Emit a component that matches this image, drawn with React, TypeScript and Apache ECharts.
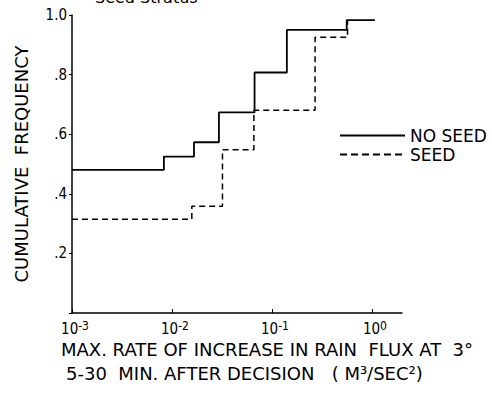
import React, { useEffect, useRef } from "react";
import * as echarts from "echarts";

// Step CDF data: [x (m^3/s^2), cumulative frequency after step]
const noSeedX = [0.001, 0.0083, 0.0166, 0.0295, 0.067, 0.141, 0.56, 1.07];
const noSeedY = [0.48, 0.525, 0.573, 0.673, 0.807, 0.95, 0.983, 0.983];
const seedX = [0.001, 0.0158, 0.032, 0.066, 0.27, 0.57];
const seedY = [0.315, 0.358, 0.548, 0.68, 0.925, 0.983];

const xTickValues = [0.001, 0.01, 0.1, 1];
const xTickExp = ["-3", "-2", "-1", "0"];
const yTickValues = [0.2, 0.4, 0.6, 0.8, 1.0];
const yTickLabels = [".2", ".4", ".6", ".8", "1.0"];

const seriesNames = ["NO SEED", "SEED"];
const yTitle = "CUMULATIVE  FREQUENCY";
const xTitle1 = "MAX. RATE OF INCREASE IN RAIN  FLUX AT  3°";
const xTitle2 = "5-30  MIN. AFTER DECISION   ( M³/SEC²)";
const topFragment = "Seed Stratus";

const FONT = "DejaVu Sans";
const FONT_C = "DejaVu Sans Condensed";

const SOLID_ICON = "path://M0,0h65v2h-65z";
const DASH_ICON =
  "path://M0,0h7v2h-7zM11,0h7v2h-7zM22,0h7v2h-7zM33,0h7v2h-7zM44,0h7v2h-7zM55,0h7v2h-7zM65,0h0.01v2h-0.01z";

export default function App() {
  const ref = useRef<HTMLDivElement>(null);

  useEffect(() => {
    document.body.style.margin = "0";
    if (!ref.current) return;
    const chart = echarts.init(ref.current, undefined, { renderer: "svg" });
    const zip = (xs: number[], ys: number[]) => xs.map((x, i) => [x, ys[i]]);

    chart.setOption({
      animation: false,
      backgroundColor: "#ffffff",
      grid: { left: 72, right: 90, top: 15, bottom: 84, containLabel: false },
      xAxis: {
        type: "log",
        logBase: 10,
        min: 0.001,
        max: 2,
        axisLine: { show: true, lineStyle: { color: "#000", width: 1.5 } },
        axisTick: {
          show: true,
          inside: true,
          length: 4,
          customValues: xTickValues,
          lineStyle: { color: "#000", width: 1 },
        },
        axisLabel: {
          customValues: xTickValues,
          margin: 7,
          formatter: (v: number) => {
            const i = xTickValues.findIndex((t) => Math.abs(Math.log10(t) - Math.log10(v)) < 1e-6);
            if (i < 0) return "";
            return "{b|10}{s|" + xTickExp[i] + "}";
          },
          rich: {
            b: { fontFamily: FONT_C, fontSize: 15, color: "#000", padding: [0, 0, 0, 6] },
            s: { fontFamily: FONT_C, fontSize: 12, color: "#000", padding: [0, 0, 5, 0] },
          },
        },
        splitLine: { show: false },
        minorTick: { show: false },
      },
      yAxis: {
        type: "value",
        min: 0,
        max: 1,
        interval: 0.2,
        name: yTitle,
        nameLocation: "middle",
        nameRotate: 90,
        nameGap: 42,
        nameTextStyle: { fontFamily: FONT, fontSize: 18, color: "#000" },
        axisLine: { show: true, lineStyle: { color: "#000", width: 1.5 } },
        axisTick: { show: true, inside: false, length: 3, lineStyle: { color: "#000", width: 1 } },
        axisLabel: {
          margin: 5,
          fontFamily: FONT_C,
          fontSize: 15,
          color: "#000",
          formatter: (v: number) => {
            const i = yTickValues.findIndex((t) => Math.abs(t - v) < 1e-6);
            return i < 0 ? "" : yTickLabels[i];
          },
        },
        splitLine: { show: false },
      },
      legend: {
        orient: "vertical",
        left: 335,
        top: 122,
        itemWidth: 65,
        itemHeight: 14,
        itemGap: 2,
        symbolKeepAspect: true,
        textStyle: { fontFamily: FONT, fontSize: 17, color: "#000" },
        data: [
          { name: seriesNames[0], icon: SOLID_ICON },
          { name: seriesNames[1], icon: DASH_ICON },
        ],
      },
      series: [
        {
          name: seriesNames[0],
          type: "line",
          step: "end",
          symbol: "none",
          data: zip(noSeedX, noSeedY),
          lineStyle: { color: "#000", width: 1.8, type: "solid" },
          itemStyle: { color: "#000" },
        },
        {
          name: seriesNames[1],
          type: "line",
          step: "end",
          symbol: "none",
          data: zip(seedX, seedY),
          lineStyle: { color: "#000", width: 1.5, type: [6, 4] },
          itemStyle: { color: "#000" },
        },
      ],
      graphic: [
        {
          type: "text",
          left: 95,
          top: -11,
          style: { text: topFragment, fontFamily: FONT, fontSize: 16, fill: "#000" },
        },
        {
          type: "text",
          left: 61,
          top: 340,
          style: { text: xTitle1, fontFamily: FONT, fontSize: 18, fill: "#000" },
        },
        {
          type: "text",
          left: 66,
          top: 364,
          style: { text: xTitle2, fontFamily: FONT, fontSize: 18, fill: "#000" },
        },
      ],
    });

    return () => chart.dispose();
  }, []);

  return <div ref={ref} style={{ width: 492, height: 397 }} />;
}
